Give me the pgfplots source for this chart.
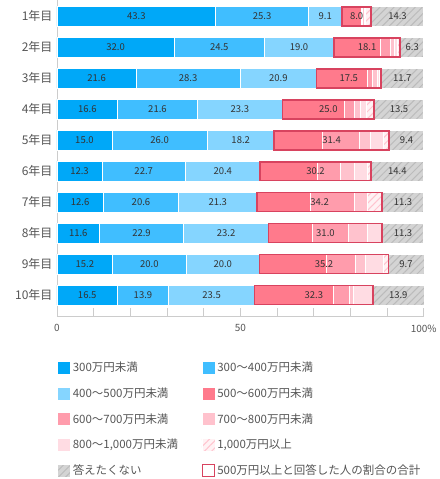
\documentclass[border=0pt]{standalone}
\usepackage{pgfplots}
\pgfplotsset{compat=1.18}
\usepackage{pgfplotstable}
\usepackage{fontspec}
\setmainfont{Noto Sans CJK JP}
\usetikzlibrary{patterns.meta}

\definecolor{c1}{HTML}{00A8F8}
\definecolor{c2}{HTML}{40BEFF}
\definecolor{c3}{HTML}{85D5FF}
\definecolor{c4}{HTML}{FF7A8C}
\definecolor{c5}{HTML}{FF9CAC}
\definecolor{c6}{HTML}{FFC2CD}
\definecolor{c7}{HTML}{FFDCE3}
\definecolor{c8}{HTML}{FFF2F4}
\definecolor{c8l}{HTML}{FFC4CF}
\definecolor{c9}{HTML}{D4D4D4}
\definecolor{c9l}{HTML}{BBBBBB}
\definecolor{boxred}{HTML}{D8435F}
\definecolor{axgray}{HTML}{CCCCCC}
\definecolor{tickc}{HTML}{555555}
\definecolor{lbl}{HTML}{333333}

\pgfplotstableread{
row c1 c2 c3 c4 c5 c6 c7 c8 c9 base tot
1 43.3 25.3 9.1 5.2 0.5 0.4 0.4 1.5 14.3 77.7 8.0
2 32.0 24.5 19.0 12.8 2.6 1.0 0.8 0.9 6.3 75.5 18.1
3 21.6 28.3 20.9 13.9 1.2 1.5 0.4 0.5 11.7 70.8 17.5
4 16.6 21.6 23.3 17.0 2.5 1.8 1.5 2.2 13.5 61.5 25.0
5 15.0 26.0 18.2 13.2 10.0 3.2 3.5 1.5 9.4 59.2 31.4
6 12.3 22.7 20.4 15.6 6.4 3.6 3.6 1.0 14.4 55.4 30.2
7 12.6 20.6 21.3 14.7 12.0 3.5 0.0 4.0 11.3 54.5 34.2
8 11.6 22.9 23.2 12.0 9.9 5.0 4.1 0.0 11.3 57.7 31.0
9 15.2 20.0 20.0 18.4 7.7 2.7 5.0 1.4 9.7 55.2 35.2
10 16.5 13.9 23.5 21.4 4.4 1.0 5.5 0.0 13.9 53.9 32.3
}\datatable

\pgfplotsset{
  sq/.style={legend image code/.code={\draw[##1, line width=0.6pt] (0pt,-6.5pt) rectangle (13pt,6.5pt);}},
  seg/.style={fill=#1, draw=white, line width=0.9pt, sq},
  common/.style={scale only axis, width=367pt, height=316pt,
    xmin=0, xmax=100, ymin=0.484, ymax=10.677, y dir=reverse, clip=false},
}
\newcommand{\colA}[1]{\makebox[127pt][l]{#1}}

\begin{document}
\begin{tikzpicture}
\begin{axis}[name=ax, common,
  xbar stacked, bar width=20pt,
  axis x line*=bottom, axis y line*=left,
  axis line style={draw=axgray, line width=0.6pt, -},
  xtick={0,50,100}, xticklabels={0,50,100\%},
  minor xtick={10,20,30,40,60,70,80,90},
  xtick align=inside, major tick length=8pt, minor tick length=8pt,
  xtick style={draw=axgray, line width=0.6pt},
  every minor tick/.append style={draw=axgray, line width=0.6pt},
  ytick={1,...,10},
  yticklabels={1年目,2年目,3年目,4年目,5年目,6年目,7年目,8年目,9年目,10年目},
  ytick style={draw=none},
  yticklabel style={font=\fontsize{12}{12}\selectfont, text=tickc, xshift=-1pt},
  xticklabel style={font=\fontsize{10}{10}\selectfont, text=tickc, yshift=-5pt},
  /pgf/number format/assume math mode=true,
  legend columns=2,
  legend cell align=left,
  legend style={at={(0,0)}, anchor=north west, yshift=-44pt, draw=none, fill=none,
    inner sep=0pt, row sep=10.5pt, font=\fontsize{11.5}{12}\selectfont, text=tickc,
    /tikz/every even column/.append style={column sep=0pt}},
]
\addplot[seg=c1] table[x=c1,y=row]{\datatable};
\addlegendentry{\colA{300万円未満}}
\addplot[seg=c2] table[x=c2,y=row]{\datatable};
\addlegendentry{300〜400万円未満}
\addplot[seg=c3] table[x=c3,y=row]{\datatable};
\addlegendentry{\colA{400〜500万円未満}}
\addplot[seg=c4] table[x=c4,y=row]{\datatable};
\addlegendentry{500〜600万円未満}
\addplot[seg=c5] table[x=c5,y=row]{\datatable};
\addlegendentry{\colA{600〜700万円未満}}
\addplot[seg=c6] table[x=c6,y=row]{\datatable};
\addlegendentry{700〜800万円未満}
\addplot[seg=c7] table[x=c7,y=row]{\datatable};
\addlegendentry{\colA{800〜1,000万円未満}}
\addplot[seg=c8, postaction={pattern={Lines[angle=45,distance=5pt,line width=1pt]}, pattern color=c8l}] table[x=c8,y=row]{\datatable};
\addlegendentry{1,000万円以上}
\addplot[seg=c9, postaction={pattern={Lines[angle=45,distance=5pt,line width=1pt]}, pattern color=c9l}] table[x=c9,y=row]{\datatable};
\addlegendentry{\colA{答えたくない}}
\addlegendimage{legend image code/.code={\draw[draw=boxred, line width=1.2pt, fill=white] (0.6pt,-6pt) rectangle (12.4pt,6pt);}}
\addlegendentry{500万円以上と回答した人の割合の合計}
\end{axis}
\begin{axis}[common, xbar stacked, bar width=19pt, hide axis]
\addplot[draw=none, fill=none] table[x=base,y=row]{\datatable};
\addplot[draw=boxred, line width=1.6pt, fill=none] table[x=tot,y=row]{\datatable};
\end{axis}
\begin{axis}[common, hide axis,
  every node near coord/.style={anchor=center, inner sep=0pt, font=\fontsize{9.5}{10}\selectfont, text=lbl},
  nodes near coords, point meta=explicit symbolic]
\addplot[draw=none, mark=none] table[x expr=\thisrow{c1}/2, y=row, meta=c1]{\datatable};
\addplot[draw=none, mark=none] table[x expr=\thisrow{c1}+\thisrow{c2}/2, y=row, meta=c2]{\datatable};
\addplot[draw=none, mark=none] table[x expr=\thisrow{c1}+\thisrow{c2}+\thisrow{c3}/2, y=row, meta=c3]{\datatable};
\addplot[draw=none, mark=none] table[x expr=\thisrow{base}+\thisrow{tot}/2, y=row, meta=tot]{\datatable};
\addplot[draw=none, mark=none] table[x expr=100-\thisrow{c9}/2, y=row, meta=c9]{\datatable};
\end{axis}
\path ([xshift=-57pt,yshift=-163pt]ax.south west) rectangle ([xshift=10pt]ax.north east);
\end{tikzpicture}
\end{document}
